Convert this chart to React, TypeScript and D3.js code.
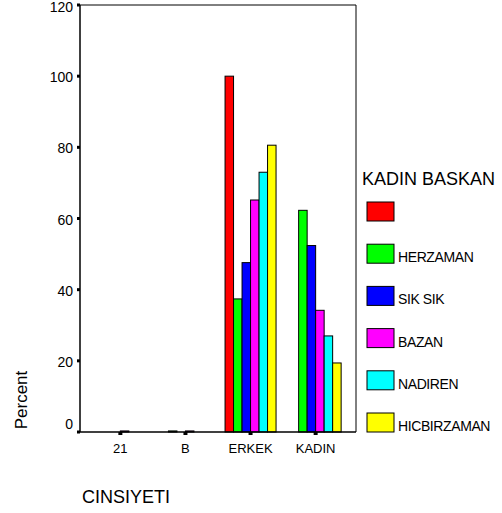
import React from "react";
import * as d3 from "d3";

const categories = ["21", "B", "ERKEK", "KADIN"];
const seriesNames = ["", "HERZAMAN", "SIK SIK", "BAZAN", "NADIREN", "HICBIRZAMAN"];
const seriesColors = ["#ff0000", "#00ff00", "#0000ff", "#ff00ff", "#00ffff", "#ffff00"];
const valuesBlank = [0, 0, 100, 0];
const valuesHerzaman = [0, 0.3, 37.4, 62.3];
const valuesSikSik = [0, 0, 47.6, 52.4];
const valuesBazan = [0.3, 0.3, 65.2, 34.2];
const valuesNadiren = [0, 0, 73.0, 27.0];
const valuesHicbirzaman = [0, 0, 80.6, 19.4];
const yTicks = [0, 20, 40, 60, 80, 100, 120];

const seriesValues = [valuesBlank, valuesHerzaman, valuesSikSik, valuesBazan, valuesNadiren, valuesHicbirzaman];

const FONT = "'Liberation Sans', Arial, sans-serif";

export default function App() {
  const left = 80, right = 356, top = 5, bottom = 432;
  const x = d3.scalePoint<string>().domain(categories).range([left, right]).padding(0.62);
  const inner = d3.scaleBand<string>().domain(seriesNames.map((_, i) => String(i))).range([-25.5, 25.5]);
  const y = d3.scaleLinear().domain([0, 120]).range([bottom, top]);

  const legendX = 367, legendY0 = 202, legendStep = 42.2;

  return (
    <svg width={502} height={513} style={{ position: "absolute", left: 0, top: 0, background: "#fff" }} fontFamily={FONT}>
      {/* bars */}
      {categories.map((c, ci) =>
        seriesValues.map((vals, si) => {
          const v = vals[ci];
          const x0 = (x(c) as number) + (inner(String(si)) as number);
          return (
            <rect key={c + si} x={x0} y={y(v)} width={inner.bandwidth()} height={bottom - y(v)}
              fill={seriesColors[si]} stroke="#000" strokeWidth={1} />
          );
        })
      )}
      {/* frame */}
      <line x1={left} y1={top} x2={right} y2={top} stroke="#000" strokeWidth={1} />
      <line x1={right} y1={top} x2={right} y2={bottom} stroke="#000" strokeWidth={1} />
      <line x1={left} y1={bottom} x2={right} y2={bottom} stroke="#000" strokeWidth={1.5} />
      <line x1={left} y1={top} x2={left} y2={bottom} stroke="#000" strokeWidth={1.5} />
      {/* y ticks */}
      {yTicks.map((t) => (
        <g key={t}>
          <rect x={left - 3} y={y(t) - 1.5} width={3} height={3} fill="#000" />
          <text x={73} y={y(t) + (t === 0 ? -8 : t === 120 ? 2 : 1)} textAnchor="end" dominantBaseline="central" fontSize={14} fill="#000">
            {t}
          </text>
        </g>
      ))}
      {/* x ticks */}
      {categories.map((c) => (
        <g key={c}>
          <rect x={(x(c) as number) - 2} y={bottom} width={4} height={3} fill="#000" />
          <text x={x(c) as number} y={453} textAnchor="middle" fontSize={13} fill="#000">
            {c}
          </text>
        </g>
      ))}
      {/* axis titles */}
      <text transform="translate(27,400) rotate(-90)" textAnchor="middle" fontSize={17} fill="#000">Percent</text>
      <text x={82} y={503} fontSize={18} fill="#000">CINSIYETI</text>
      {/* legend */}
      <text x={362} y={185} fontSize={18} fill="#000">KADIN BASKAN</text>
      {seriesNames.map((s, i) => (
        <g key={i}>
          <rect x={legendX} y={legendY0 + i * legendStep} width={27} height={19} fill={seriesColors[i]} stroke="#000" strokeWidth={1} />
          <text x={398} y={legendY0 + i * legendStep + 18} fontSize={14} fill="#000" letterSpacing={-0.4}>{s}</text>
        </g>
      ))}
    </svg>
  );
}
